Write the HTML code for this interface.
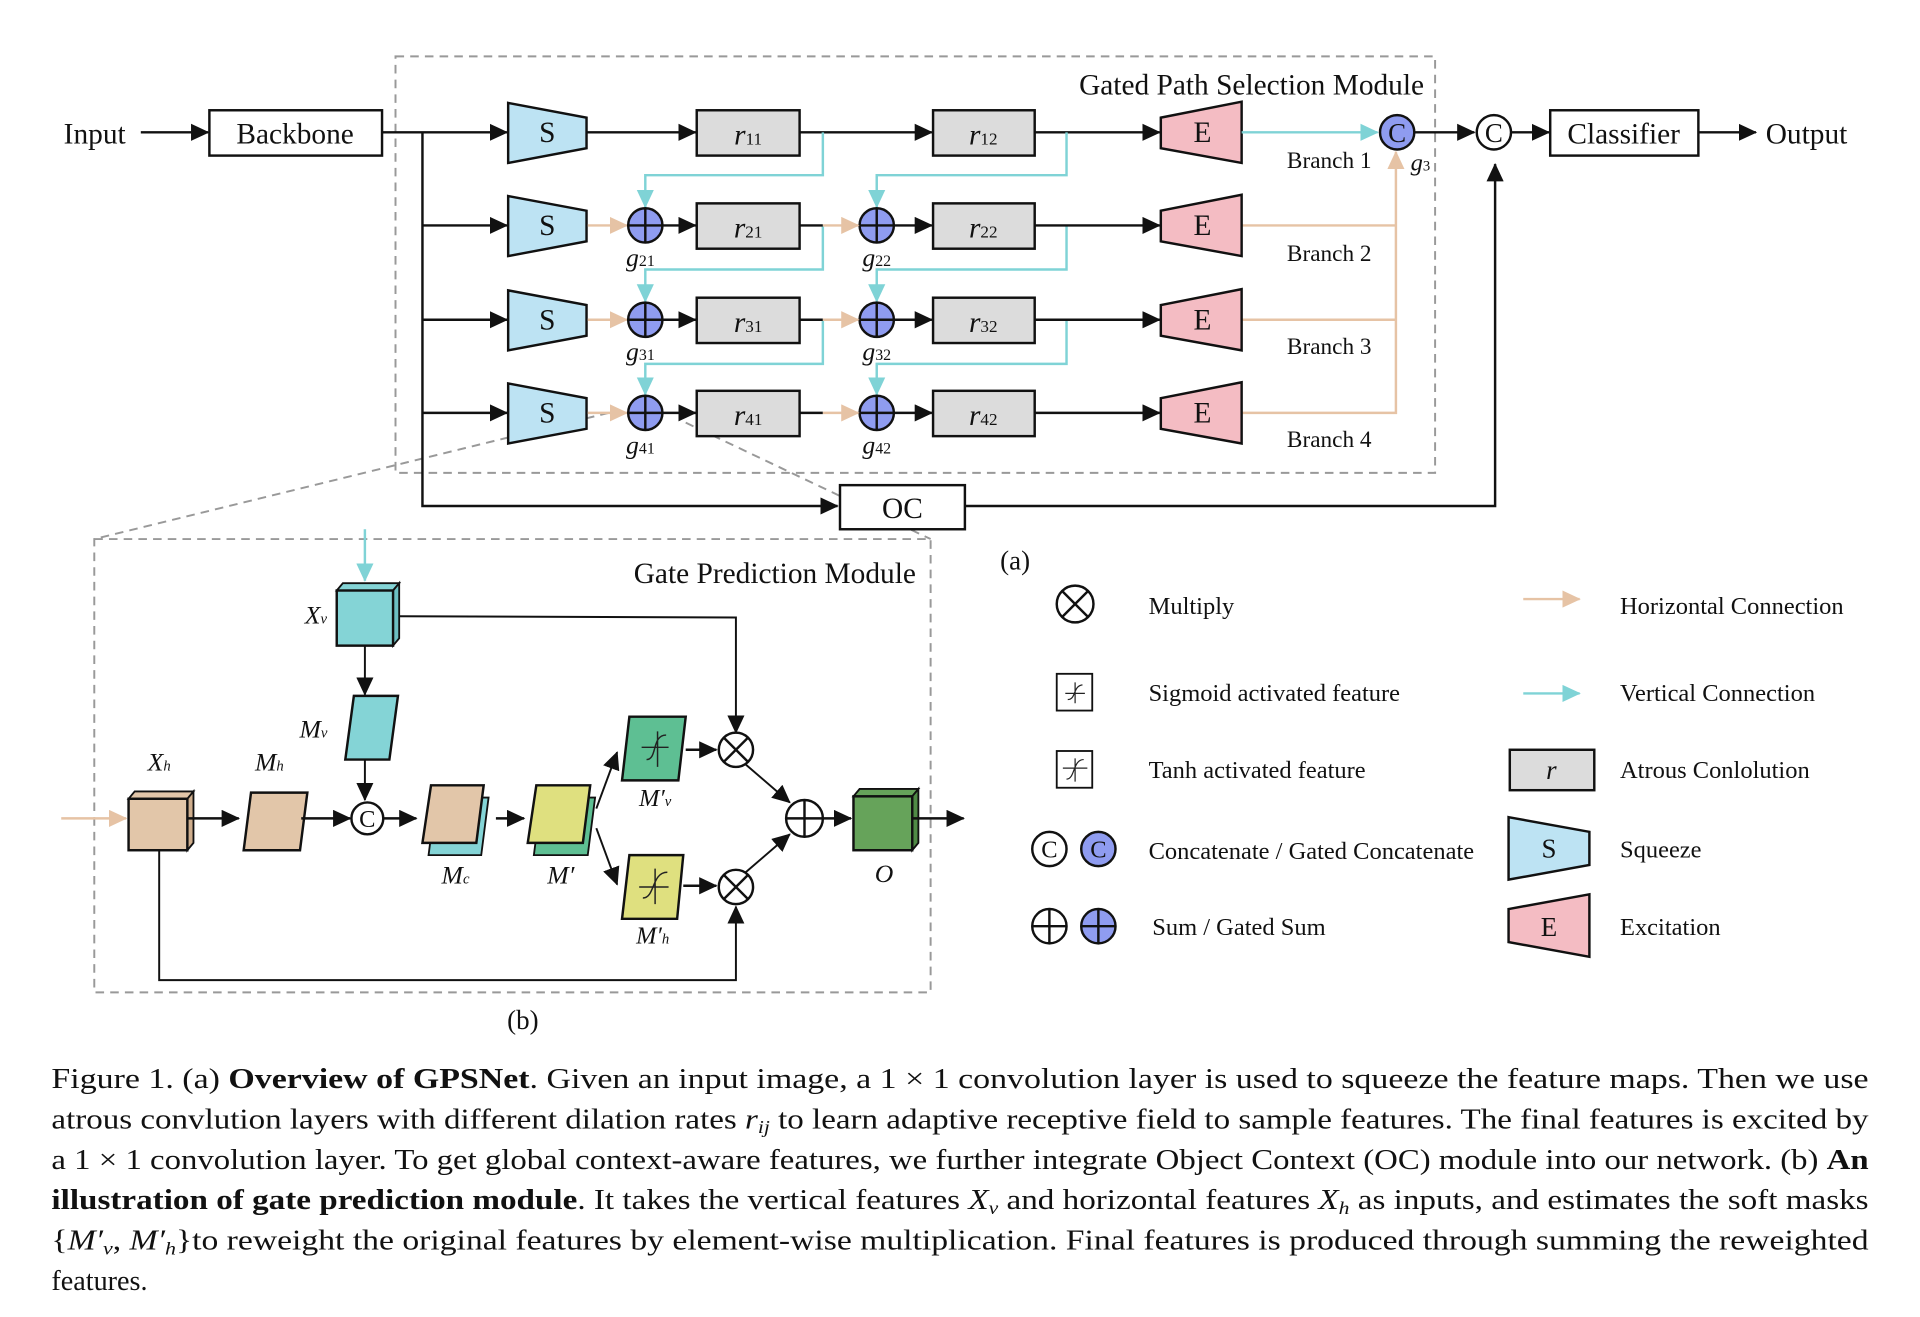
<!DOCTYPE html>
<html><head><meta charset="utf-8"><style>
html,body{margin:0;padding:0;background:#fff;}
svg{display:block;}
text{font-family:"Liberation Serif",serif;fill:#111;}
</style></head><body>
<svg width="1920" height="1317" viewBox="0 0 1568 1075" preserveAspectRatio="none" xmlns="http://www.w3.org/2000/svg">
<defs>
<marker id="ab" markerUnits="userSpaceOnUse" markerWidth="16" markerHeight="14" refX="14" refY="7" orient="auto"><path d="M0,0 L15,7 L0,14 z" fill="#111"/></marker>
<marker id="ac" markerUnits="userSpaceOnUse" markerWidth="16" markerHeight="14" refX="14" refY="7" orient="auto"><path d="M0,0 L15,7 L0,14 z" fill="#7fd3d6"/></marker>
<marker id="ap" markerUnits="userSpaceOnUse" markerWidth="16" markerHeight="14" refX="14" refY="7" orient="auto"><path d="M0,0 L15,7 L0,14 z" fill="#e6c3a5"/></marker>
</defs>
<g stroke-linecap="butt">
<!-- dashed module boxes -->
<rect x="323" y="46" width="849" height="340" fill="none" stroke="#999" stroke-width="1.6" stroke-dasharray="7,5"/>
<rect x="77" y="440" width="683" height="370" fill="none" stroke="#999" stroke-width="1.6" stroke-dasharray="7,5"/>
<line x1="497" y1="337" x2="77" y2="440" stroke="#999" stroke-width="1.6" stroke-dasharray="7,5"/>
<line x1="560" y1="345" x2="760" y2="440" stroke="#999" stroke-width="1.6" stroke-dasharray="7,5"/>

<text x="52" y="117" font-size="24">Input</text>
<line x1="115" y1="108" x2="170" y2="108" stroke="#111" stroke-width="2" marker-end="url(#ab)"/>
<rect x="171" y="90" width="141" height="37" fill="#fff" stroke="#111" stroke-width="2"/>
<text x="241" y="117" font-size="24" text-anchor="middle">Backbone</text>
<line x1="312" y1="108" x2="414" y2="108" stroke="#111" stroke-width="2" marker-end="url(#ab)"/>
<polyline points="345,108 345,413 684,413" fill="none" stroke="#111" stroke-width="2" marker-end="url(#ab)"/>
<line x1="345" y1="184" x2="414" y2="184" stroke="#111" stroke-width="2" marker-end="url(#ab)"/>
<line x1="345" y1="261" x2="414" y2="261" stroke="#111" stroke-width="2" marker-end="url(#ab)"/>
<line x1="345" y1="337" x2="414" y2="337" stroke="#111" stroke-width="2" marker-end="url(#ab)"/>
<rect x="686" y="396" width="102" height="36" fill="#fff" stroke="#111" stroke-width="2"/>
<text x="737" y="423" font-size="24" text-anchor="middle">OC</text>
<polyline points="788,413 1221,413 1221,134" fill="none" stroke="#111" stroke-width="2" marker-end="url(#ab)"/>

<text x="1163" y="77" font-size="24" text-anchor="end">Gated Path Selection Module</text>

<!-- Row 1 -->
<polygon points="415,84 479,96 479,121 415,133" fill="#bde3f3" stroke="#111" stroke-width="2"/>
<text x="447" y="116" font-size="24" text-anchor="middle">S</text>
<line x1="479" y1="108" x2="568" y2="108" stroke="#111" stroke-width="2" marker-end="url(#ab)"/>
<rect x="569" y="90" width="84" height="37" fill="#dcdcdc" stroke="#111" stroke-width="2"/>
<text x="611" y="118" font-size="24" text-anchor="middle" font-style="italic">r<tspan font-size="14" font-style="normal">11</tspan></text>
<line x1="653" y1="108" x2="761" y2="108" stroke="#111" stroke-width="2" marker-end="url(#ab)"/>
<rect x="762" y="90" width="83" height="37" fill="#dcdcdc" stroke="#111" stroke-width="2"/>
<text x="803" y="118" font-size="24" text-anchor="middle" font-style="italic">r<tspan font-size="14" font-style="normal">12</tspan></text>
<line x1="845" y1="108" x2="947" y2="108" stroke="#111" stroke-width="2" marker-end="url(#ab)"/>
<polygon points="948,96 1014,83 1014,133 948,121" fill="#f4bcc3" stroke="#111" stroke-width="2"/>
<text x="982" y="116" font-size="24" text-anchor="middle">E</text>
<line x1="1014" y1="108" x2="1125" y2="108" stroke="#7fd3d6" stroke-width="2" marker-end="url(#ac)"/>
<circle cx="1141" cy="108" r="14" fill="#8f9cf0" stroke="#111" stroke-width="2"/>
<text x="1141" y="116" font-size="22" text-anchor="middle">C</text>
<text x="1051" y="137" font-size="19">Branch 1</text>
<text x="1152" y="139" font-size="20" font-style="italic">g<tspan font-size="12" font-style="normal">3</tspan></text>
<line x1="1155" y1="108" x2="1204" y2="108" stroke="#111" stroke-width="2" marker-end="url(#ab)"/>
<circle cx="1220" cy="108" r="14" fill="#fff" stroke="#111" stroke-width="2"/>
<text x="1220" y="116" font-size="22" text-anchor="middle">C</text>
<line x1="1234" y1="108" x2="1265" y2="108" stroke="#111" stroke-width="2" marker-end="url(#ab)"/>
<rect x="1266" y="90" width="121" height="37" fill="#fff" stroke="#111" stroke-width="2"/>
<text x="1326" y="117" font-size="24" text-anchor="middle">Classifier</text>
<line x1="1387" y1="108" x2="1434" y2="108" stroke="#111" stroke-width="2" marker-end="url(#ab)"/>
<text x="1442" y="117" font-size="24">Output</text>

<!-- vertical cyan connections -->
<polyline points="672,108 672,143 527,143 527,169" fill="none" stroke="#7fd3d6" stroke-width="2" marker-end="url(#ac)"/>
<polyline points="871,108 871,143 716,143 716,169" fill="none" stroke="#7fd3d6" stroke-width="2" marker-end="url(#ac)"/>
<polyline points="672,184 672,220 527,220 527,246" fill="none" stroke="#7fd3d6" stroke-width="2" marker-end="url(#ac)"/>
<polyline points="871,184 871,220 716,220 716,246" fill="none" stroke="#7fd3d6" stroke-width="2" marker-end="url(#ac)"/>
<polyline points="672,261 672,297 527,297 527,322" fill="none" stroke="#7fd3d6" stroke-width="2" marker-end="url(#ac)"/>
<polyline points="871,261 871,297 716,297 716,322" fill="none" stroke="#7fd3d6" stroke-width="2" marker-end="url(#ac)"/>

<!-- peach collector -->
<polyline points="1014,184 1140,184" fill="none" stroke="#e6c3a5" stroke-width="2"/>
<polyline points="1014,261 1140,261" fill="none" stroke="#e6c3a5" stroke-width="2"/>
<polyline points="1014,337 1140,337 1140,124" fill="none" stroke="#e6c3a5" stroke-width="2" marker-end="url(#ap)"/>

<!-- rows 2-4 -->
<g id="rows">
<polygon points="415,160 479,172 479,197 415,209" fill="#bde3f3" stroke="#111" stroke-width="2"/>
<text x="447" y="192" font-size="24" text-anchor="middle">S</text>
<polygon points="415,237 479,249 479,274 415,286" fill="#bde3f3" stroke="#111" stroke-width="2"/>
<text x="447" y="269" font-size="24" text-anchor="middle">S</text>
<polygon points="415,313 479,325 479,350 415,362" fill="#bde3f3" stroke="#111" stroke-width="2"/>
<text x="447" y="345" font-size="24" text-anchor="middle">S</text>

<line x1="480" y1="184" x2="512" y2="184" stroke="#e6c3a5" stroke-width="2" marker-end="url(#ap)"/>
<line x1="480" y1="261" x2="512" y2="261" stroke="#e6c3a5" stroke-width="2" marker-end="url(#ap)"/>
<line x1="480" y1="337" x2="512" y2="337" stroke="#e6c3a5" stroke-width="2" marker-end="url(#ap)"/>

<g fill="#8f9cf0" stroke="#111" stroke-width="2">
<circle cx="527" cy="184" r="14"/><circle cx="527" cy="261" r="14"/><circle cx="527" cy="337" r="14"/>
<circle cx="716" cy="184" r="14"/><circle cx="716" cy="261" r="14"/><circle cx="716" cy="337" r="14"/>
</g>
<g stroke="#111" stroke-width="2">
<line x1="513" y1="184" x2="541" y2="184"/><line x1="527" y1="170" x2="527" y2="198"/>
<line x1="513" y1="261" x2="541" y2="261"/><line x1="527" y1="247" x2="527" y2="275"/>
<line x1="513" y1="337" x2="541" y2="337"/><line x1="527" y1="323" x2="527" y2="351"/>
<line x1="702" y1="184" x2="730" y2="184"/><line x1="716" y1="170" x2="716" y2="198"/>
<line x1="702" y1="261" x2="730" y2="261"/><line x1="716" y1="247" x2="716" y2="275"/>
<line x1="702" y1="337" x2="730" y2="337"/><line x1="716" y1="323" x2="716" y2="351"/>
</g>
<g stroke="#111" stroke-width="2">
<line x1="541" y1="184" x2="568" y2="184" marker-end="url(#ab)"/>
<line x1="541" y1="261" x2="568" y2="261" marker-end="url(#ab)"/>
<line x1="541" y1="337" x2="568" y2="337" marker-end="url(#ab)"/>
<line x1="730" y1="184" x2="761" y2="184" marker-end="url(#ab)"/>
<line x1="730" y1="261" x2="761" y2="261" marker-end="url(#ab)"/>
<line x1="730" y1="337" x2="761" y2="337" marker-end="url(#ab)"/>
<line x1="653" y1="184" x2="672" y2="184"/>
<line x1="653" y1="261" x2="672" y2="261"/>
<line x1="653" y1="337" x2="672" y2="337"/>
<line x1="845" y1="184" x2="947" y2="184" marker-end="url(#ab)"/>
<line x1="845" y1="261" x2="947" y2="261" marker-end="url(#ab)"/>
<line x1="845" y1="337" x2="947" y2="337" marker-end="url(#ab)"/>
</g>
<line x1="672" y1="184" x2="701" y2="184" stroke="#e6c3a5" stroke-width="2" marker-end="url(#ap)"/>
<line x1="672" y1="261" x2="701" y2="261" stroke="#e6c3a5" stroke-width="2" marker-end="url(#ap)"/>
<line x1="672" y1="337" x2="701" y2="337" stroke="#e6c3a5" stroke-width="2" marker-end="url(#ap)"/>

<g fill="#dcdcdc" stroke="#111" stroke-width="2">
<rect x="569" y="166" width="84" height="37"/><rect x="569" y="243" width="84" height="37"/><rect x="569" y="319" width="84" height="37"/>
<rect x="762" y="166" width="83" height="37"/><rect x="762" y="243" width="83" height="37"/><rect x="762" y="319" width="83" height="37"/>
</g>
<g font-size="24" text-anchor="middle" font-style="italic">
<text x="611" y="194">r<tspan font-size="14" font-style="normal">21</tspan></text>
<text x="611" y="271">r<tspan font-size="14" font-style="normal">31</tspan></text>
<text x="611" y="347">r<tspan font-size="14" font-style="normal">41</tspan></text>
<text x="803" y="194">r<tspan font-size="14" font-style="normal">22</tspan></text>
<text x="803" y="271">r<tspan font-size="14" font-style="normal">32</tspan></text>
<text x="803" y="347">r<tspan font-size="14" font-style="normal">42</tspan></text>
</g>
<g font-size="21" text-anchor="middle" font-style="italic">
<text x="523" y="217">g<tspan font-size="13" font-style="normal">21</tspan></text>
<text x="523" y="294">g<tspan font-size="13" font-style="normal">31</tspan></text>
<text x="523" y="370">g<tspan font-size="13" font-style="normal">41</tspan></text>
<text x="716" y="217">g<tspan font-size="13" font-style="normal">22</tspan></text>
<text x="716" y="294">g<tspan font-size="13" font-style="normal">32</tspan></text>
<text x="716" y="370">g<tspan font-size="13" font-style="normal">42</tspan></text>
</g>
<g fill="#f4bcc3" stroke="#111" stroke-width="2">
<polygon points="948,172 1014,159 1014,209 948,197"/>
<polygon points="948,249 1014,236 1014,286 948,274"/>
<polygon points="948,325 1014,312 1014,362 948,350"/>
</g>
<text x="982" y="192" font-size="24" text-anchor="middle">E</text>
<text x="982" y="269" font-size="24" text-anchor="middle">E</text>
<text x="982" y="345" font-size="24" text-anchor="middle">E</text>
<text x="1051" y="213" font-size="19">Branch 2</text>
<text x="1051" y="289" font-size="19">Branch 3</text>
<text x="1051" y="365" font-size="19">Branch 4</text>
</g>

<text x="829" y="465" font-size="22" text-anchor="middle">(a)</text>

<!-- Gate prediction module -->
<text x="748" y="476" font-size="24" text-anchor="end">Gate Prediction Module</text>
<line x1="298" y1="432" x2="298" y2="474" stroke="#7fd3d6" stroke-width="2" marker-end="url(#ac)"/>
<!-- Xv cube -->
<polygon points="275,482 280,476 326,476 321,482" fill="#84d4d6" stroke="#111" stroke-width="1.5"/>
<polygon points="321,482 326,476 326,521 321,527" fill="#6cbfc2" stroke="#111" stroke-width="1.5"/>
<rect x="275" y="482" width="46" height="45" fill="#84d4d6" stroke="#111" stroke-width="2"/>
<text x="258" y="509" font-size="21" text-anchor="middle" font-style="italic">X<tspan font-size="12">v</tspan></text>
<polyline points="326,503 601,504 601,598" fill="none" stroke="#111" stroke-width="1.6" marker-end="url(#ab)"/>
<line x1="298" y1="527" x2="298" y2="567" stroke="#111" stroke-width="1.6" marker-end="url(#ab)"/>
<polygon points="289,568 325,568 318,620 282,620" fill="#84d4d6" stroke="#111" stroke-width="2"/>
<text x="256" y="602" font-size="21" text-anchor="middle" font-style="italic">M<tspan font-size="12">v</tspan></text>
<line x1="298" y1="620" x2="298" y2="653" stroke="#111" stroke-width="1.6" marker-end="url(#ab)"/>
<circle cx="300" cy="668" r="13" fill="#fff" stroke="#111" stroke-width="2"/>
<text x="300" y="675" font-size="20" text-anchor="middle">C</text>

<line x1="50" y1="668" x2="103" y2="668" stroke="#e6c3a5" stroke-width="2" marker-end="url(#ap)"/>
<polygon points="105,652 110,646 158,646 153,652" fill="#e2c6a9" stroke="#111" stroke-width="1.5"/>
<polygon points="153,652 158,646 158,688 153,694" fill="#cfae8d" stroke="#111" stroke-width="1.5"/>
<rect x="105" y="652" width="48" height="42" fill="#e2c6a9" stroke="#111" stroke-width="2"/>
<text x="130" y="629" font-size="21" text-anchor="middle" font-style="italic">X<tspan font-size="12">h</tspan></text>
<line x1="153" y1="668" x2="195" y2="668" stroke="#111" stroke-width="2" marker-end="url(#ab)"/>
<polygon points="205,647 251,647 245,694 199,694" fill="#e2c6a9" stroke="#111" stroke-width="2"/>
<text x="220" y="629" font-size="21" text-anchor="middle" font-style="italic">M<tspan font-size="12">h</tspan></text>
<line x1="246" y1="668" x2="286" y2="668" stroke="#111" stroke-width="2" marker-end="url(#ab)"/>
<line x1="313" y1="668" x2="340" y2="668" stroke="#111" stroke-width="2" marker-end="url(#ab)"/>
<polygon points="356,651 399,651 393,698 350,698" fill="#84d4d6" stroke="#111" stroke-width="1.5"/>
<polygon points="352,641 395,641 389,688 345,688" fill="#e2c6a9" stroke="#111" stroke-width="2"/>
<text x="372" y="721" font-size="21" text-anchor="middle" font-style="italic">M<tspan font-size="12">c</tspan></text>
<line x1="405" y1="668" x2="428" y2="668" stroke="#111" stroke-width="2" marker-end="url(#ab)"/>
<polygon points="442,651 486,651 480,698 436,698" fill="#5ebf93" stroke="#111" stroke-width="1.5"/>
<polygon points="438,641 482,641 476,688 431,688" fill="#dfe07f" stroke="#111" stroke-width="2"/>
<text x="458" y="721" font-size="21" text-anchor="middle" font-style="italic">M′</text>
<line x1="487" y1="660" x2="504" y2="614" stroke="#111" stroke-width="1.6" marker-end="url(#ab)"/>
<line x1="487" y1="676" x2="504" y2="722" stroke="#111" stroke-width="1.6" marker-end="url(#ab)"/>
<polygon points="514,585 560,585 554,637 508,637" fill="#5ebf93" stroke="#111" stroke-width="2"/>
<path d="M524,610 H546 M537,597 V626 M528,620 C537,620 532,600 544,600" fill="none" stroke="#222" stroke-width="1.2"/>
<text x="535" y="658" font-size="20" text-anchor="middle" font-style="italic">M′<tspan font-size="12">v</tspan></text>
<polygon points="514,698 558,698 553,750 508,750" fill="#dfe07f" stroke="#111" stroke-width="2"/>
<path d="M522,724 H546 M535,709 V738 M525,733 C535,733 532,712 545,712" fill="none" stroke="#222" stroke-width="1.2"/>
<text x="533" y="770" font-size="20" text-anchor="middle" font-style="italic">M′<tspan font-size="12">h</tspan></text>
<line x1="560" y1="612" x2="585" y2="612" stroke="#111" stroke-width="2" marker-end="url(#ab)"/>
<line x1="558" y1="723" x2="585" y2="723" stroke="#111" stroke-width="2" marker-end="url(#ab)"/>
<polyline points="130,694 130,800 601,800 601,740" fill="none" stroke="#111" stroke-width="1.6" marker-end="url(#ab)"/>
<g stroke="#111" stroke-width="2" fill="#fff">
<circle cx="601" cy="612" r="14"/><circle cx="601" cy="724" r="14"/><circle cx="657" cy="668" r="15"/>
<path d="M591,602 L611,622 M611,602 L591,622 M591,714 L611,734 M611,714 L591,734 M642,668 H672 M657,653 V683" fill="none"/>
</g>
<line x1="609" y1="624" x2="645" y2="655" stroke="#111" stroke-width="1.6" marker-end="url(#ab)"/>
<line x1="609" y1="712" x2="645" y2="681" stroke="#111" stroke-width="1.6" marker-end="url(#ab)"/>
<line x1="672" y1="668" x2="695" y2="668" stroke="#111" stroke-width="2" marker-end="url(#ab)"/>
<polygon points="697,650 702,644 750,644 745,650" fill="#66a35a" stroke="#111" stroke-width="1.5"/>
<polygon points="745,650 750,644 750,688 745,694" fill="#4f8a45" stroke="#111" stroke-width="1.5"/>
<rect x="697" y="650" width="48" height="44" fill="#66a35a" stroke="#111" stroke-width="2"/>
<text x="722" y="720" font-size="21" text-anchor="middle" font-style="italic">O</text>
<line x1="745" y1="668" x2="787" y2="668" stroke="#111" stroke-width="2" marker-end="url(#ab)"/>
<text x="427" y="840" font-size="22" text-anchor="middle">(b)</text>

<!-- Legend -->
<g stroke="#111" stroke-width="2" fill="#fff">
<circle cx="878" cy="493" r="15"/><path d="M867,482 L889,504 M889,482 L867,504" fill="none"/>
<rect x="863" y="550" width="29" height="30" stroke-width="1.5"/>
<rect x="863" y="613" width="29" height="30" stroke-width="1.5"/>
<circle cx="857" cy="693" r="14"/><circle cx="897" cy="693" r="14" fill="#8f9cf0"/>
<circle cx="857" cy="756" r="14"/><circle cx="897" cy="756" r="14" fill="#8f9cf0"/>
<path d="M843,756 H871 M857,742 V770 M883,756 H911 M897,742 V770" fill="none"/>
</g>
<path d="M870,566 H886 M878,557 V574 M872,571 C879,571 876,560 884,559" fill="none" stroke="#222" stroke-width="1"/>
<path d="M868,627 H888 M878,619 V638 M871,636 C878,636 876,620 885,620" fill="none" stroke="#222" stroke-width="1"/>
<text x="857" y="700" font-size="20" text-anchor="middle">C</text>
<text x="897" y="700" font-size="20" text-anchor="middle">C</text>
<g font-size="20">
<text x="938" y="501">Multiply</text>
<text x="938" y="572">Sigmoid activated feature</text>
<text x="938" y="635">Tanh activated feature</text>
<text x="938" y="701">Concatenate / Gated Concatenate</text>
<text x="941" y="763">Sum / Gated Sum</text>
<text x="1323" y="501">Horizontal Connection</text>
<text x="1323" y="572">Vertical Connection</text>
<text x="1323" y="635">Atrous Conlolution</text>
<text x="1323" y="700">Squeeze</text>
<text x="1323" y="763">Excitation</text>
</g>
<line x1="1244" y1="489" x2="1290" y2="489" stroke="#e6c3a5" stroke-width="2" marker-end="url(#ap)"/>
<line x1="1244" y1="566" x2="1290" y2="566" stroke="#7fd3d6" stroke-width="2" marker-end="url(#ac)"/>
<rect x="1233" y="612" width="69" height="33" fill="#dcdcdc" stroke="#111" stroke-width="2"/>
<text x="1267" y="636" font-size="22" text-anchor="middle" font-style="italic">r</text>
<polygon points="1232,667 1298,679 1298,706 1232,718" fill="#bde3f3" stroke="#111" stroke-width="2"/>
<text x="1265" y="700" font-size="22" text-anchor="middle">S</text>
<polygon points="1232,742 1298,730 1298,781 1232,769" fill="#f4bcc3" stroke="#111" stroke-width="2"/>
<text x="1265" y="764" font-size="22" text-anchor="middle">E</text>

<!-- Caption -->
<g font-size="23">
<text x="42" y="888" textLength="1484" lengthAdjust="spacingAndGlyphs">Figure 1. (a) <tspan font-weight="bold">Overview of GPSNet</tspan>. Given an input image, a 1 × 1 convolution layer is used to squeeze the feature maps.  Then we use</text>
<text x="42" y="921" textLength="1484" lengthAdjust="spacingAndGlyphs">atrous convlution layers with different dilation rates <tspan font-style="italic">r</tspan><tspan font-style="italic" font-size="15" dy="4">ij</tspan><tspan dy="-4"> to learn adaptive receptive field to sample features. The final features is excited by</tspan></text>
<text x="42" y="954" textLength="1484" lengthAdjust="spacingAndGlyphs">a 1 × 1 convolution layer. To get global context-aware features, we further integrate Object Context (OC) module into our network. (b) <tspan font-weight="bold">An</tspan></text>
<text x="42" y="987" textLength="1484" lengthAdjust="spacingAndGlyphs"><tspan font-weight="bold">illustration of gate prediction module</tspan>. It takes the vertical features <tspan font-style="italic">X</tspan><tspan font-style="italic" font-size="15" dy="4">v</tspan><tspan dy="-4"> and horizontal features </tspan><tspan font-style="italic">X</tspan><tspan font-style="italic" font-size="15" dy="4">h</tspan><tspan dy="-4"> as inputs, and estimates the soft masks</tspan></text>
<text x="42" y="1020" textLength="1484" lengthAdjust="spacingAndGlyphs">{<tspan font-style="italic">M′</tspan><tspan font-style="italic" font-size="15" dy="4">v</tspan><tspan dy="-4">, </tspan><tspan font-style="italic">M′</tspan><tspan font-style="italic" font-size="15" dy="4">h</tspan><tspan dy="-4">}to reweight the original features by element-wise multiplication.  Final features is produced through summing the reweighted</tspan></text>
<text x="42" y="1053">features.</text>
</g>
</g>
</svg>
</body></html>
